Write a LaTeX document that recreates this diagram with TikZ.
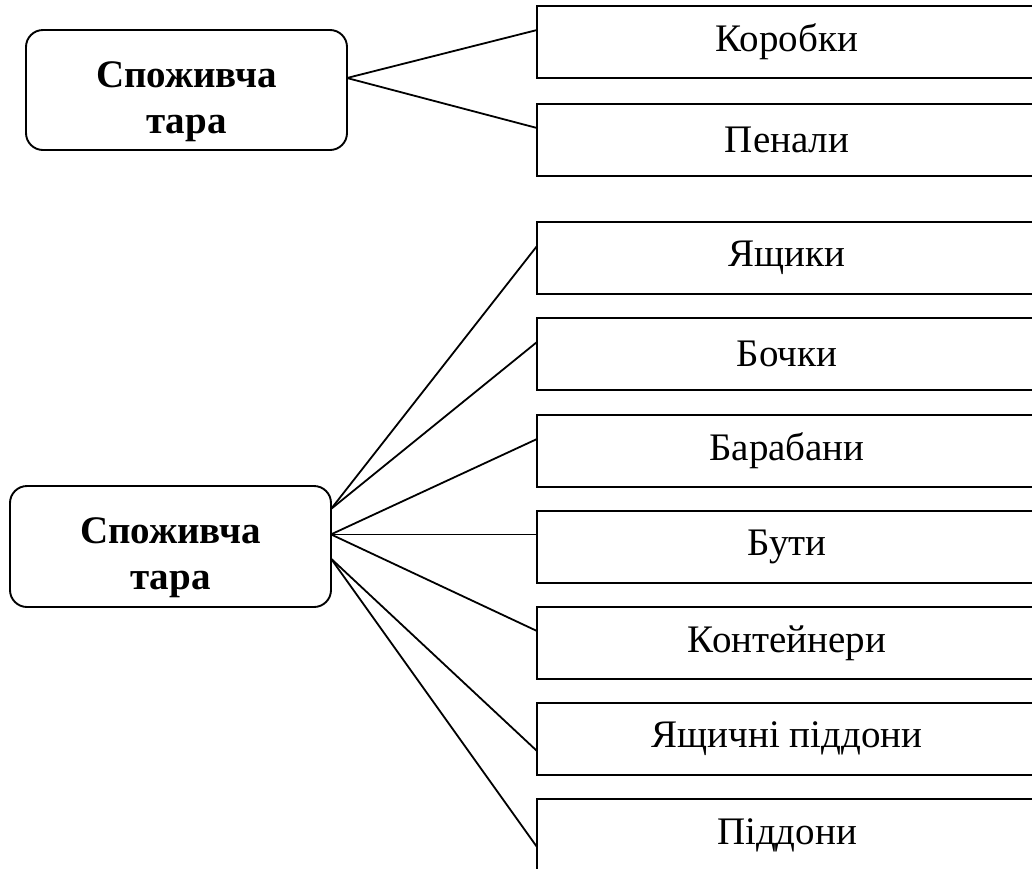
\documentclass[tikz,border=0pt]{standalone}
\usepackage{fontspec}
\setmainfont{Liberation Serif}
\usetikzlibrary{calc}
\begin{document}
\begin{tikzpicture}[x=1pt,y=-1pt,
  every node/.style={inner sep=0pt, outer sep=0pt},
  kindbox/.style={draw, line width=1.9pt, rounded corners=17pt,
    minimum width=321pt, minimum height=120pt, align=center,
    font=\fontsize{39}{46}\selectfont\bfseries, anchor=north west},
  itembox/.style={draw, line width=1.9pt, minimum width=500pt,
    minimum height=72pt, font=\fontsize{39}{46}\selectfont, anchor=north west},
  link/.style={line width=1.8pt}]
\useasboundingbox (0,0) rectangle (1032,868);

% upper group
\node[kindbox] (cons) at (26,30) {\rule{0pt}{50pt}Споживча\\тара};
\node[itembox] (korobky) at (537,6)   {Коробки};
\node[itembox] (penaly)  at (537,104) {Пенали};

\draw[link] ($(cons.north east)!0.4!(cons.south east)$) -- ($(korobky.north west)!1/3!(korobky.south west)$);
\draw[link] ($(cons.north east)!0.4!(cons.south east)$) -- ($(penaly.north west)!1/3!(penaly.south west)$);

% lower group
\node[kindbox, minimum height=121pt] (trans) at (10,486) {\rule{0pt}{48pt}Споживча\\тара};
\node[itembox] (yashchyky)  at (537,222) {Ящики};
\node[itembox] (bochky)     at (537,318) {Бочки};
\node[itembox] (barabany)   at (537,415) {Барабани};
\node[itembox] (buty)       at (537,511) {Бути};
\node[itembox] (konteinery) at (537,607) {Контейнери};
\node[itembox] (yashpiddon) at (537,703) {Ящичні піддони};
\node[itembox] (piddony)    at (537,799) {Піддони};

\coordinate (srcA) at ($(trans.north east)!0.19!(trans.south east)$);
\coordinate (srcB) at ($(trans.north east)!0.40!(trans.south east)$);
\coordinate (srcC) at ($(trans.north east)!0.60!(trans.south east)$);

\draw[link] (srcA) -- ($(yashchyky.north west)!1/3!(yashchyky.south west)$);
\draw[link] (srcA) -- ($(bochky.north west)!1/3!(bochky.south west)$);
\draw[link] (srcB) -- ($(barabany.north west)!1/3!(barabany.south west)$);
\draw[link] (srcB) -- (srcB -| buty.west);
\draw[link] (srcB) -- ($(konteinery.north west)!1/3!(konteinery.south west)$);
\draw[link] (srcC) -- ($(yashpiddon.north west)!2/3!(yashpiddon.south west)$);
\draw[link] (srcC) -- ($(piddony.north west)!2/3!(piddony.south west)$);
\end{tikzpicture}
\end{document}
